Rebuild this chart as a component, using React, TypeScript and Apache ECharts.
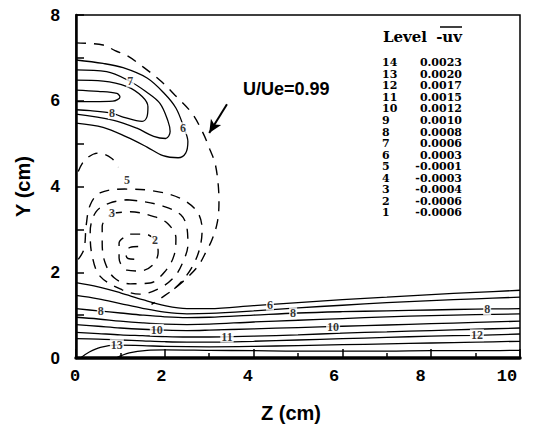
import React, { useEffect, useRef } from "react";
import * as echarts from "echarts";

// ---------- axes ----------
const xTickLabels = [0, 2, 4, 6, 8, 10];
const yTickLabels = [0, 2, 4, 6, 8];

// ---------- boundary-layer contours (solid), Y at each Z ----------
const blZ = [0, 0.5, 1, 1.5, 2, 2.5, 3, 4, 5, 6, 7, 8, 9, 10];
const c6 = [1.76, 1.66, 1.52, 1.36, 1.22, 1.15, 1.15, 1.22, 1.29, 1.36, 1.42, 1.48, 1.53, 1.58];
const c7 = [1.46, 1.38, 1.27, 1.16, 1.07, 1.03, 1.04, 1.1, 1.17, 1.23, 1.29, 1.34, 1.38, 1.42];
const c8 = [1.15, 1.1, 1.05, 1.0, 0.96, 0.94, 0.95, 1.0, 1.05, 1.08, 1.1, 1.12, 1.14, 1.15];
const c9 = [0.95, 0.91, 0.86, 0.82, 0.79, 0.78, 0.79, 0.84, 0.88, 0.92, 0.96, 0.99, 1.01, 1.03];
const c10 = [0.78, 0.74, 0.7, 0.67, 0.65, 0.64, 0.65, 0.68, 0.71, 0.74, 0.77, 0.8, 0.83, 0.86];
const c11 = [0.6, 0.57, 0.54, 0.52, 0.5, 0.49, 0.49, 0.51, 0.54, 0.58, 0.61, 0.64, 0.67, 0.7];
const c12 = [0.45, 0.44, 0.42, 0.4, 0.38, 0.37, 0.37, 0.39, 0.42, 0.45, 0.48, 0.51, 0.53, 0.56];
const c13: number[][] = [[0.1, 0.0], [0.3, 0.14], [0.55, 0.25], [0.92, 0.3], [1.5, 0.29], [2, 0.27], [3, 0.26], [4, 0.27], [5, 0.29], [6, 0.31], [7, 0.33], [8, 0.35], [9, 0.37], [10, 0.39]];
const c14: number[][] = [[0.9, 0.0], [1.2, 0.12], [1.6, 0.18], [2, 0.19], [3, 0.18], [4, 0.17], [5, 0.16], [6, 0.16], [7, 0.16], [8, 0.17], [9, 0.17], [10, 0.18]];

// ---------- upper lobe contours (solid) ----------
const lobe6: number[][] = [[0, 6.95], [0.61, 6.87], [1.06, 6.77], [1.6, 6.53], [1.98, 6.18], [2.25, 5.83], [2.43, 5.37], [2.52, 5.05], [2.47, 4.78], [2.3, 4.67], [1.96, 4.72], [1.6, 4.92], [1.15, 5.15], [0.61, 5.38], [0, 5.48]];
const lobe7: number[][] = [[0, 6.72], [0.69, 6.68], [1.22, 6.45], [1.58, 6.21], [1.89, 5.94], [2.07, 5.53], [2.12, 5.28], [2.02, 5.12], [1.75, 5.17], [1.37, 5.36], [0.83, 5.55], [0, 5.69]];
const lobe8: number[][] = [[0, 6.48], [0.61, 6.46], [1.15, 6.33], [1.49, 6.1], [1.62, 5.86], [1.6, 5.63], [1.49, 5.52], [1.06, 5.62], [0.81, 5.71], [0.32, 5.77], [0, 5.79]];
const lobe9: number[][] = [[0, 6.25], [0.5, 6.22], [0.92, 6.17], [0.99, 6.09], [0.83, 5.99], [0.4, 5.98], [0, 5.98]];

// ---------- vortex contours (dashed) ----------
const outer99: number[][] = [[0, 7.35], [0.61, 7.3], [0.88, 7.17], [1.17, 7.04], [1.51, 6.79], [1.89, 6.48], [2.23, 6.13], [2.61, 5.71], [2.86, 5.25], [3.02, 4.85], [3.13, 4.55], [3.2, 4.08], [3.22, 3.62], [3.18, 3.15], [3.06, 2.75], [2.95, 2.52], [2.73, 2.12], [2.27, 1.66], [1.89, 1.38], [1.7, 1.25]];
const ring5: number[][] = [[0.05, 2.3], [0.18, 2.54], [0.23, 3.1], [0.32, 3.57], [0.54, 3.85], [1.1, 3.94], [1.73, 3.9], [2.34, 3.73], [2.73, 3.41], [2.84, 2.99], [2.79, 2.57], [2.64, 2.17], [2.41, 1.82], [2.15, 1.55]];
const c5b: number[][] = [[0.05, 4.35], [0.2, 4.62], [0.5, 4.78], [0.8, 4.66], [0.95, 4.45]];
const ring4: number[][] = [[1.15, 3.69], [1.44, 3.66], [1.94, 3.55], [2.36, 3.34], [2.5, 3.03], [2.52, 2.64], [2.43, 2.29], [2.23, 1.91], [1.89, 1.63], [1.44, 1.49], [1.04, 1.59], [0.54, 1.91], [0.36, 2.4], [0.32, 2.94], [0.45, 3.41], [0.77, 3.62], [1.15, 3.69]];
const ring3: number[][] = [[0.81, 3.38], [1.22, 3.41], [1.78, 3.29], [2.07, 3.13], [2.25, 2.8], [2.21, 2.4], [2.03, 2.05], [1.67, 1.75], [1.22, 1.73], [0.86, 1.87], [0.65, 2.24], [0.59, 2.68], [0.59, 3.08], [0.81, 3.38]];
const ring2: number[][] = [[1.22, 2.89], [1.55, 2.89], [1.78, 2.75], [1.85, 2.47], [1.73, 2.17], [1.44, 2.03], [1.15, 2.05], [0.97, 2.33], [0.97, 2.68], [1.22, 2.89]];
const ring1: number[][] = [[1.4, 2.6], [1.22, 2.58], [1.12, 2.45], [1.17, 2.32], [1.4, 2.3]];

// ---------- contour labels ----------
const freeLabels: [number, number, string][] = [
  [1.22, 6.45, "7"], [0.81, 5.71, "8"], [2.41, 5.36, "6"],
  [1.15, 4.15, "5"], [0.81, 3.38, "3"], [1.78, 2.75, "2"],
  [0.92, 0.3, "13"],
];
const blLabels: [number, number[], string][] = [
  [4.37, c6, "6"], [0.56, c8, "8"], [4.89, c8, "8"], [9.26, c8, "8"],
  [1.82, c10, "10"], [5.79, c10, "10"], [3.4, c11, "11"], [9.03, c12, "12"],
];

// ---------- level table ----------
const levelNums = ["14", "13", "12", "11", "10", "9", "8", "7", "6", "5", "4", "3", "2", "1"];
const levelValues = ["0.0023", "0.0020", "0.0017", "0.0015", "0.0012", "0.0010", "0.0008", "0.0006", "0.0003", "-0.0001", "-0.0003", "-0.0004", "-0.0006", "-0.0006"];

// ---------- annotation ----------
const arrowFrom = [3.4, 5.92];
const arrowTo = [3.0, 5.25];
const annotationText = "U/Ue=0.99";

const interp = (xs: number[], ys: number[], x: number) => {
  for (let i = 0; i < xs.length - 1; i++) {
    if (x >= xs[i] && x <= xs[i + 1]) {
      const t = (x - xs[i]) / (xs[i + 1] - xs[i]);
      return ys[i] + t * (ys[i + 1] - ys[i]);
    }
  }
  return ys[ys.length - 1];
};

export default function App() {
  const ref = useRef<HTMLDivElement>(null);
  useEffect(() => {
    document.body.style.margin = "0";
    if (!ref.current) return;
    const chart = echarts.init(ref.current, undefined, { renderer: "svg" });

    const line = (data: number[][], dashed: boolean, extra: any = {}) => ({
      type: "line",
      data,
      symbol: "none",
      showSymbol: false,
      smooth: 0.35,
      silent: true,
      xAxisIndex: 0,
      yAxisIndex: 0,
      z: 2,
      lineStyle: { color: "#000", width: dashed ? 1.4 : 1.3, type: dashed ? [10, 8] : "solid" },
      ...extra,
    });
    const zip = (ys: number[]) => blZ.map((z, i) => [z, ys[i]]);

    const labelData = [
      ...freeLabels.map((l) => [l[0], l[1], l[2]]),
      ...blLabels.map((l) => [l[0], interp(blZ, l[1], l[0]), l[2]]),
    ];

    const serif = "'Liberation Serif', 'Times New Roman', serif";
    const tableFont = "'DejaVu Serif', serif";
    const graphics: any[] = [
      { type: "text", x: 383, y: 37, style: { text: "Level", font: `bold 15px ${tableFont}`, fill: "#000", verticalAlign: "middle", align: "left" } },
      { type: "text", x: 462, y: 37, style: { text: "-uv", font: `bold 15px ${tableFont}`, fill: "#000", verticalAlign: "middle", align: "right" } },
      { type: "line", shape: { x1: 440, y1: 27, x2: 462, y2: 27 }, style: { stroke: "#000", lineWidth: 1.5 } },
      { type: "text", x: 243, y: 89, style: { text: annotationText, font: "bold 18px 'Liberation Sans', Arial, sans-serif", fill: "#000", verticalAlign: "middle", align: "left" } },
    ];
    levelNums.forEach((n, i) => {
      const y = 62.7 + i * 11.55;
      graphics.push({ type: "text", x: 382, y, style: { text: n, font: `bold 11px ${tableFont}`, fill: "#000", verticalAlign: "middle", align: "left" } });
      graphics.push({ type: "text", x: 462, y, style: { text: levelValues[i], font: `bold 11px ${tableFont}`, fill: "#000", verticalAlign: "middle", align: "right" } });
    });

    chart.setOption({
      animation: false,
      backgroundColor: "#fff",
      grid: [
        { left: 76, right: 17, top: 15, bottom: 70, show: true, borderColor: "#000", borderWidth: 1.5, backgroundColor: "transparent" },
        { left: 75, right: 30, top: 15, bottom: 70, show: false },
      ],
      xAxis: [
        {
          type: "value", gridIndex: 0, min: 0, max: 10, interval: 2,
          axisLine: { show: true, onZero: false, lineStyle: { color: "#000", width: 3.5 } },
          axisTick: { show: true, inside: true, length: 9, lineStyle: { color: "#000", width: 1.5 } },
          minorTick: { show: true, splitNumber: 2, length: 5, lineStyle: { color: "#000", width: 1.5 } },
          axisLabel: { show: false },
          splitLine: { show: false },
        },
        {
          type: "value", gridIndex: 1, min: 0, max: 10, interval: 2,
          axisLine: { show: false }, axisTick: { show: false }, splitLine: { show: false },
          axisLabel: {
            show: true, margin: 14, color: "#000", fontSize: 17, fontWeight: "bold",
            fontFamily: "'Liberation Mono', 'Courier New', monospace",
            formatter: (v: number) => (xTickLabels.includes(v) ? String(v) : ""),
          },
          name: "Z (cm)", nameLocation: "middle", nameGap: 49,
          nameTextStyle: { color: "#000", fontSize: 20, fontWeight: "bold", fontFamily: "'Liberation Sans', Arial, sans-serif" },
        },
      ],
      yAxis: [
        {
          type: "value", gridIndex: 0, min: 0, max: 8, interval: 1,
          axisLine: { show: true, onZero: false, lineStyle: { color: "#000", width: 2.5 } },
          axisTick: { show: true, inside: true, length: 8, lineStyle: { color: "#000", width: 1.5 } },
          splitLine: { show: false },
          axisLabel: {
            margin: 16, color: "#000", fontSize: 17, fontWeight: "bold",
            fontFamily: "'Liberation Sans', Arial, sans-serif",
            formatter: (v: number) => (yTickLabels.includes(v) ? String(v) : ""),
          },
          name: "Y (cm)", nameLocation: "middle", nameGap: 43,
          nameTextStyle: { color: "#000", fontSize: 20, fontWeight: "bold", fontFamily: "'Liberation Sans', Arial, sans-serif" },
        },
        { type: "value", gridIndex: 1, min: 0, max: 8, show: false },
      ],
      series: [
        line(zip(c6), false), line(zip(c7), false), line(zip(c8), false), line(zip(c9), false),
        line(zip(c10), false), line(zip(c11), false), line(zip(c12), false),
        line(c13, false), line(c14, false),
        line(lobe6, false), line(lobe7, false), line(lobe8, false), line(lobe9, false),
        line(outer99, true, {
          markLine: {
            silent: true, symbol: ["none", "arrow"], symbolSize: [9, 13],
            label: { show: false },
            lineStyle: { color: "#000", width: 2, type: "solid" },
            data: [[{ coord: arrowFrom }, { coord: arrowTo }]],
          },
        }),
        line(ring5, true), line(c5b, true), line(ring4, true), line(ring3, true), line(ring2, true), line(ring1, true),
        {
          type: "scatter", xAxisIndex: 0, yAxisIndex: 0, z: 5, silent: true,
          symbol: "rect", symbolSize: 1, itemStyle: { color: "rgba(0,0,0,0)" },
          data: labelData,
          label: {
            show: true, position: "inside", color: "#000", fontSize: 12, fontWeight: "bold",
            fontFamily: serif, backgroundColor: "#fff", padding: [0, 1],
            formatter: (p: any) => p.data[2],
          },
        },
      ],
      graphic: graphics,
    });
    return () => chart.dispose();
  }, []);
  return <div ref={ref} style={{ width: 537, height: 428 }} />;
}
